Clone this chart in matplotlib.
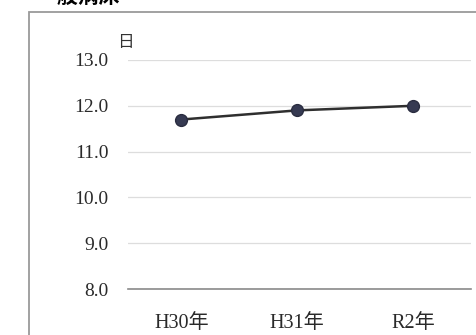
import matplotlib.pyplot as plt
from matplotlib.patches import Rectangle

# 平均在院日数（一般病床）
years = ["H30年", "H31年", "R2年"]
days = [11.7, 11.9, 12.0]
yticks = [8.0, 9.0, 10.0, 11.0, 12.0, 13.0]

plt.rcParams['font.family'] = ['Liberation Serif', 'Noto Sans CJK JP']

W, H = 477, 335
fig = plt.figure(figsize=(W / 100, H / 100), dpi=100)

# outer frame of the chart box (runs off the right and bottom edges)
fig.patches.append(Rectangle((29 / W, -0.05), 1.0, (H - 12) / H + 0.05,
                             transform=fig.transFigure, fill=False,
                             edgecolor="#9a9a9a", linewidth=1.3))

# heading, mostly cut off by the top edge
fig.text(36 / W, 1 - 7 / H, "一般病床", fontsize=15, fontweight="bold",
         va="bottom", ha="left", family=['Noto Sans CJK JP'])

ax = fig.add_axes([128 / W, 1 - 289 / H, (471 - 128) / W, (289 - 60) / H])
x = range(len(years))
ax.plot(x, days, color="#2f2f2f", linewidth=1.8, marker="o", markersize=8.5,
        markerfacecolor="#363a52", markeredgecolor="#2a2d40", zorder=3)

ax.set_xlim(-0.46, 2.5)
ax.set_ylim(8.0, 13.0)
ax.set_yticks(yticks)
ax.set_yticklabels([f"{v:.1f}" for v in yticks], fontsize=14, color="#2a2a2a")
ax.set_xticks(list(x))
ax.set_xticklabels(years, fontsize=14.5, color="#2a2a2a")
ax.tick_params(length=0)
ax.tick_params(axis="y", pad=14)
ax.tick_params(axis="x", pad=18)

ax.grid(axis="y", color="#dddddd", linewidth=0.9)
ax.set_axisbelow(True)
for side in ["top", "right", "left"]:
    ax.spines[side].set_visible(False)
ax.spines["bottom"].set_color("#8a8a8a")
ax.spines["bottom"].set_linewidth(1.2)

# unit label above the y axis
fig.text(125 / W, 1 - 43 / H, "日", fontsize=12, ha="center", va="center",
         color="#333333", family=['Noto Sans CJK JP'])

fig.savefig("out.png", dpi=100)
